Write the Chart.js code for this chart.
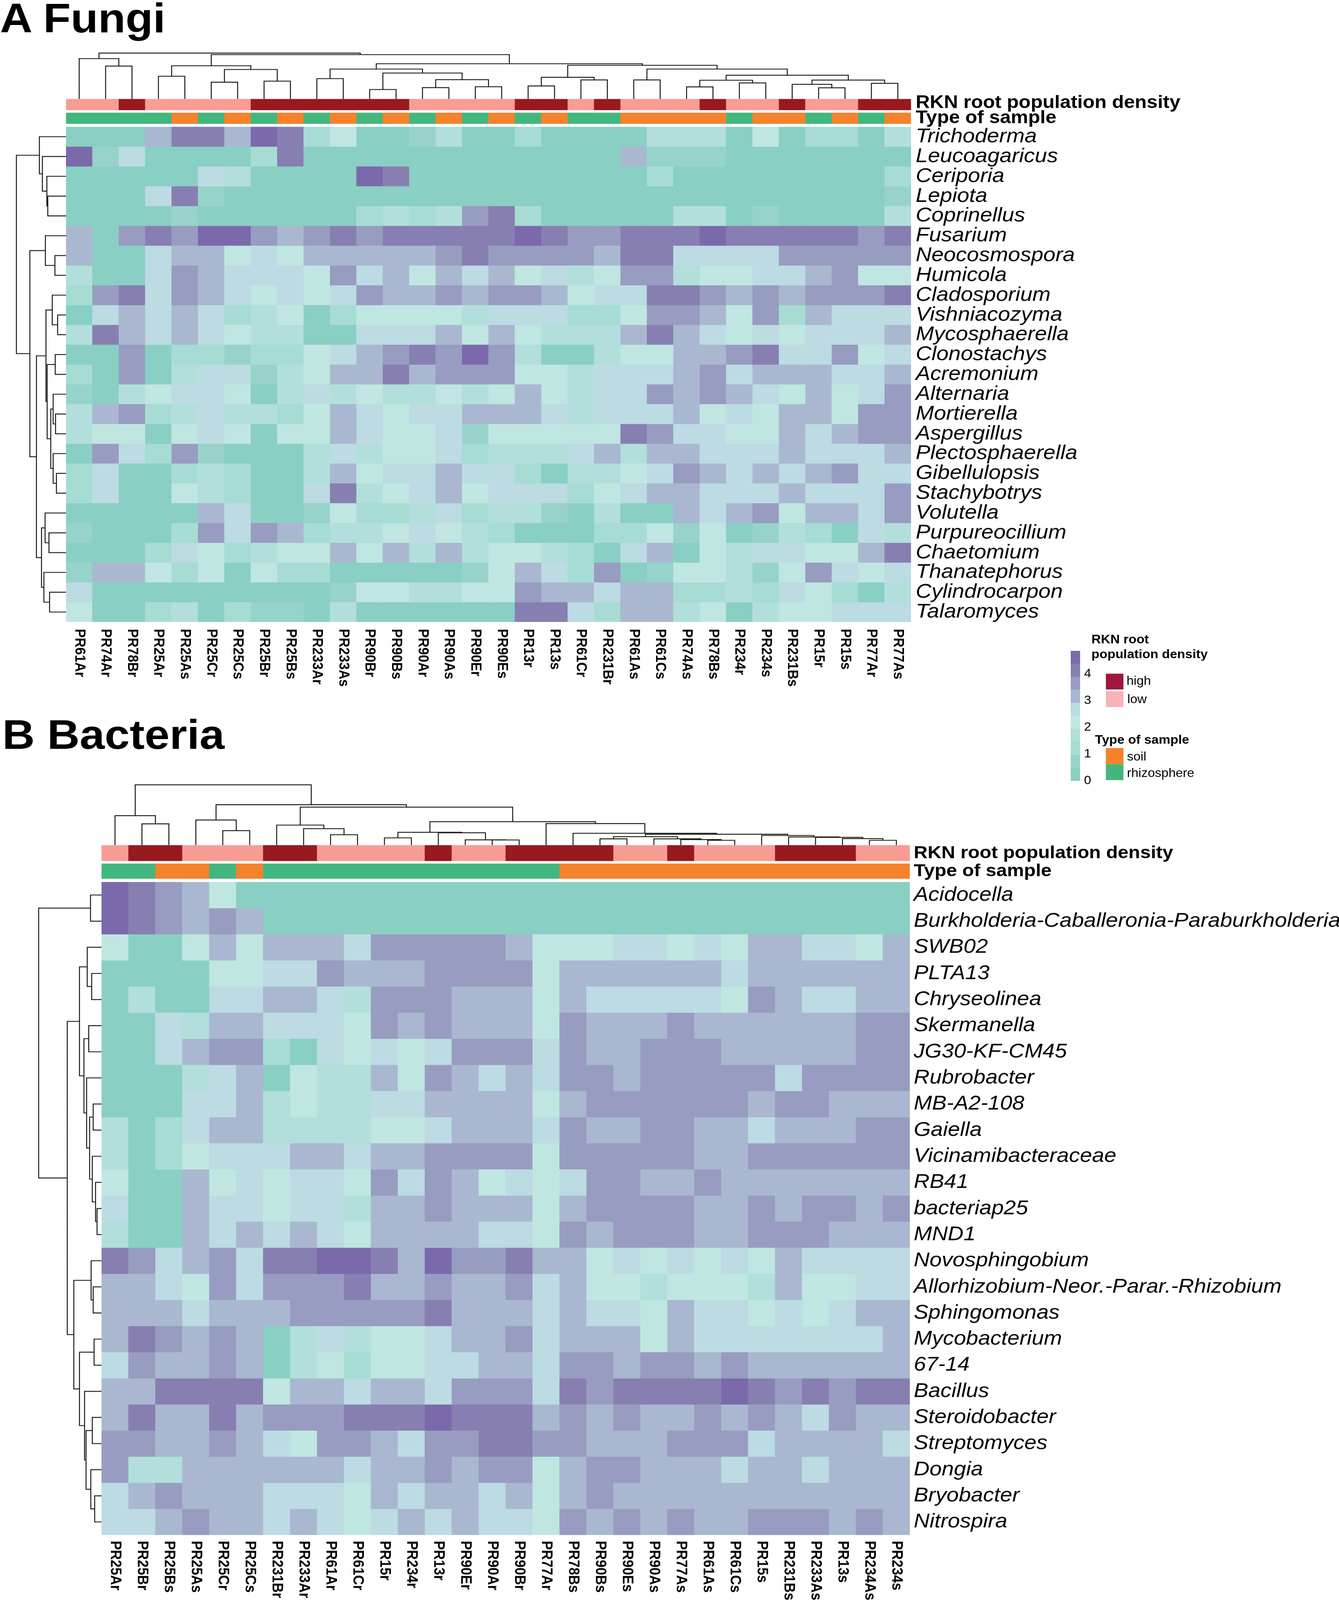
<!DOCTYPE html>
<html><head><meta charset="utf-8">
<style>
html,body{margin:0;padding:0;background:#fff;width:3429px;height:100%;overflow:hidden;font-family:"Liberation Sans",Arial,sans-serif;color:#000}
#page{position:absolute;left:0;top:0;width:3429px;height:4430px;transform-origin:0 0;background:#fff}
canvas{position:absolute}
.t{position:absolute;line-height:1;white-space:nowrap}
.s{position:absolute}
</style>
<script src="https://cdn.jsdelivr.net/npm/chart.js@4/dist/chart.umd.js"></script>
</head><body><div id="page"></div>
<script>
const page=document.getElementById('page');
/* the browser caps its window height; the full 4430-unit layout is fitted to whatever height it actually gives */
page.style.transform='scale(1,'+Math.min(1,window.innerHeight/4430)+')';

const palette=['#8ACFC4','#97D3CA','#A7DCD4','#B2DFDB','#C0E6E2','#BCDBE3','#A9B8D0','#989CC1','#877FB2','#7B69AB'];
const scaleMax=4.87;
const rknColors={high:'#98191E',low:'#F99C94'};
const typeColors={soil:'#F6822B',rhizosphere:'#41B77E'};

const fungiSamples=['PR61Ar','PR74Ar','PR78Br','PR25Ar','PR25As','PR25Cr','PR25Cs','PR25Br','PR25Bs','PR233Ar','PR233As','PR90Br','PR90Bs','PR90Ar','PR90As','PR90Er','PR90Es','PR13r','PR13s','PR61Cr','PR231Br','PR61As','PR61Cs','PR74As','PR78Bs','PR234r','PR234s','PR231Bs','PR15r','PR15s','PR77Ar','PR77As'];
const fungiTaxa=['Trichoderma','Leucoagaricus','Ceriporia','Lepiota','Coprinellus','Fusarium','Neocosmospora','Humicola','Cladosporium','Vishniacozyma','Mycosphaerella','Clonostachys','Acremonium','Alternaria','Mortierella','Aspergillus','Plectosphaerella','Gibellulopsis','Stachybotrys','Volutella','Purpureocillium','Chaetomium','Thanatephorus','Cylindrocarpon','Talaromyces'];
const H='high',L='low',S='soil',R='rhizosphere';
const fungiRkn=[L,L,H,L,L,L,L,H,H,H,H,H,H,L,L,L,L,H,H,L,H,L,L,L,H,L,L,H,L,L,H,H];
const fungiType=[R,R,R,R,S,R,S,R,S,R,S,R,S,R,S,R,S,R,S,R,R,S,S,S,S,R,S,S,R,S,R,S];
const fungiValues=[
[0,0,0,3.2,4.1,4.1,3.2,4.6,4.1,1.2,2.2,0,0,.7,1.7,0,0,1.2,0,0,0,0,1.7,1.7,1.7,0,2.2,0,1.2,1.2,0,1.7],
[4.6,.7,2.7,0,0,0,0,1.2,4.1,0,0,0,0,0,0,0,0,0,0,0,0,3.2,.7,.7,.7,0,0,0,0,0,0,0],
[0,0,0,0,0,2.7,1.7,0,0,0,0,4.6,4.1,0,0,0,0,0,0,0,0,0,1.2,0,0,0,0,0,0,0,0,1.2],
[0,0,0,2.7,4.1,.7,0,0,0,0,0,0,0,0,0,0,0,0,0,0,0,0,0,0,0,0,0,0,0,0,0,.7],
[0,0,0,0,.7,0,0,0,0,0,0,1.2,1.7,1.2,1.7,3.6,4.1,1.2,0,0,0,0,0,1.7,1.7,0,.7,0,0,0,0,1.7],
[3.2,0,3.6,4.1,3.6,4.6,4.6,3.6,3.2,3.6,4.1,3.6,4.1,4.1,4.1,4.1,4.1,4.6,4.1,3.6,3.6,4.1,4.1,4.1,4.6,4.1,4.1,4.1,4.1,4.1,3.6,4.1],
[3.2,0,0,2.7,3.2,3.2,2.2,2.7,2.2,3.2,3.2,3.2,3.2,3.2,3.6,4.1,3.6,3.6,3.6,3.6,3.2,4.1,4.1,2.7,2.7,2.7,2.7,3.6,3.6,3.6,3.6,3.6],
[1.7,0,0,2.7,3.6,3.2,2.7,2.7,2.7,2.2,3.6,2.7,3.2,2.2,3.2,2.7,3.2,2.2,2.7,1.7,2.2,3.6,3.6,1.7,2.2,2.2,2.7,2.7,3.2,3.6,2.2,2.2],
[1.2,3.6,4.1,2.7,3.6,3.2,2.7,2.2,2.7,2.2,2.7,3.6,3.2,3.2,3.6,3.2,3.6,3.6,3.2,2.2,2.7,2.7,4.1,4.1,3.6,3.2,3.6,3.2,3.6,3.6,3.6,4.1],
[0,2.7,3.2,2.7,3.2,2.7,1.2,1.7,2.2,0,1.2,2.2,2.2,2.2,2.2,1.7,2.7,2.7,2.7,1.2,1.2,2.2,3.6,3.6,3.2,2.2,3.6,1.2,3.2,2.7,2.7,2.7],
[1.7,4.1,3.2,2.7,3.2,2.7,2.2,1.7,1.7,0,0,2.7,2.7,2.7,3.2,2.2,3.2,2.2,1.7,1.7,1.7,3.2,4.1,3.2,2.7,2.2,2.7,2.2,2.7,2.7,2.7,3.2],
[0,0,3.6,0,1.2,1.2,.7,1.2,1.2,2.2,2.7,3.2,3.6,4.1,3.6,4.6,3.6,1.7,0,0,1.7,2.2,2.2,3.2,3.2,3.6,4.1,2.7,2.7,3.6,2.2,2.7],
[1.2,0,3.6,0,1.7,2.7,2.7,.7,1.7,2.2,3.2,3.2,4.1,3.2,3.6,3.6,3.6,2.2,2.2,1.7,2.7,2.7,2.7,3.2,3.6,2.7,3.2,3.2,3.2,2.7,2.7,3.2],
[.7,0,1.7,2.2,2.7,2.7,2.2,0,1.7,2.7,1.7,2.2,1.7,1.7,2.2,1.7,2.2,3.2,2.2,1.7,2.7,2.7,3.6,3.2,3.6,3.2,2.7,2.2,3.2,2.2,2.7,3.6],
[1.7,3.2,3.6,1.2,1.7,2.7,1.7,1.7,1.2,2.2,3.2,2.7,2.2,2.7,2.7,3.2,3.2,3.2,2.7,1.7,2.7,2.7,2.7,3.2,2.2,2.7,2.2,3.2,3.2,2.2,3.6,3.6],
[1.7,2.2,2.2,0,2.2,2.7,2.2,0,2.2,2.2,3.2,2.7,2.2,2.2,2.7,.7,2.2,2.2,2.2,2.2,2.2,4.1,3.6,2.7,2.7,2.2,2.2,3.2,2.7,3.2,3.6,3.6],
[0,3.6,2.7,1.2,3.6,.7,0,0,0,1.7,2.7,1.7,2.2,2.2,2.7,1.2,1.7,1.7,1.7,2.7,3.2,1.7,3.2,3.2,2.7,2.7,2.7,3.2,2.7,2.7,2.7,3.2],
[1.2,2.7,0,0,1.2,1.7,1.2,0,0,1.7,3.2,2.2,2.7,2.7,3.2,2.7,2.7,1.2,0,1.7,1.7,2.2,2.7,3.6,3.2,2.7,3.2,2.7,3.2,3.6,2.7,2.7],
[1.2,2.7,0,0,2.2,1.7,1.2,0,0,2.7,4.1,1.7,2.2,2.7,3.2,2.2,2.7,2.7,2.7,1.2,2.2,2.7,3.2,3.2,2.7,2.7,2.7,3.2,2.7,2.7,2.7,3.6],
[0,0,0,0,0,3.2,2.7,0,0,.7,2.2,1.2,1.2,1.7,2.7,1.2,1.7,1.7,.7,0,1.7,0,0,3.2,2.7,3.2,3.6,2.2,3.2,3.2,2.7,3.6],
[.7,0,0,0,1.2,3.6,2.7,3.6,3.2,1.2,1.7,1.7,2.2,2.7,2.2,1.7,1.2,0,0,0,1.2,1.2,2.2,.7,2.2,0,.7,1.7,1.2,0,2.7,1.7],
[0,0,0,1.2,2.7,2.2,1.2,1.7,2.2,2.2,3.2,2.2,3.2,1.7,3.2,1.7,2.2,2.2,1.7,1.2,0,2.7,3.2,0,2.2,1.7,2.7,2.7,2.2,2.2,3.2,4.1],
[.7,3.2,3.2,2.2,1.2,2.2,0,2.2,1.2,1.2,0,0,0,0,0,.7,2.2,3.2,2.7,1.2,3.6,0,.7,2.2,2.2,1.7,.7,2.2,3.6,2.7,2.2,2.7],
[2.7,0,0,0,0,0,0,0,0,0,.7,2.2,2.2,1.7,1.7,2.2,2.2,3.6,3.2,3.2,2.7,3.2,3.2,1.2,1.2,1.7,1.2,2.7,2.2,1.2,0,1.7],
[2.2,0,0,1.2,1.7,0,1.2,.7,.7,0,1.7,0,0,0,0,0,0,4.1,4.1,2.7,1.2,3.2,3.2,1.7,2.2,0,1.7,2.2,2.2,2.7,2.7,2.7]
];
const fungiColumnTree=[311,[274,0,[223,1,2]],[301,[225,[154,3,4],[200,[114,5,6],[121,7,8]]],[239,[203,[138,9,10],[176,[64,11,12],[131,[77,13,14],[83,15,16]]]],[228,[147,[88,17,18],[129,19,20]],[203,[129,21,22],[161,[127,[82,23,24],[109,25,26]],[128,[99,27,[76,28,29]],[106,30,31]]]]]]]];
const fungiRowTree=[166,[89,0,[79,1,[64,2,[61,3,4]]]],[121,[69,5,[37,6,7]],[99,[67,[46,8,[28,9,10]],[63,[36,11,12],[51,[43,13,[35,14,15]],[43,16,[32,17,18]]]]],[82,[70,19,[57,20,21]],[74,22,[55,23,24]]]]]];

const bacteriaSamples=['PR25Ar','PR25Br','PR25Bs','PR25As','PR25Cr','PR25Cs','PR231Br','PR233Ar','PR61Ar','PR61Cr','PR15r','PR234r','PR13r','PR90Er','PR90Ar','PR90Br','PR77Ar','PR78Bs','PR90Bs','PR90Es','PR90As','PR77As','PR61As','PR61Cs','PR15s','PR231Bs','PR233As','PR13s','PR234As','PR234s'];
const bacteriaTaxa=['Acidocella','Burkholderia-Caballeronia-Paraburkholderia','SWB02','PLTA13','Chryseolinea','Skermanella','JG30-KF-CM45','Rubrobacter','MB-A2-108','Gaiella','Vicinamibacteraceae','RB41','bacteriap25','MND1','Novosphingobium','Allorhizobium-Neor.-Parar.-Rhizobium','Sphingomonas','Mycobacterium','67-14','Bacillus','Steroidobacter','Streptomyces','Dongia','Bryobacter','Nitrospira'];
const bacteriaRkn=[L,H,H,L,L,L,H,H,L,L,L,L,H,L,L,H,H,H,H,L,L,H,L,L,L,H,H,H,L,L];
const bacteriaType=[R,R,S,S,R,S,R,R,R,R,R,R,R,R,R,R,R,S,S,S,S,S,S,S,S,S,S,S,S,S];
const bacteriaValues=[
[4.6,4.1,3.6,3.2,2.2,0,0,0,0,0,0,0,0,0,0,0,0,0,0,0,0,0,0,0,0,0,0,0,0,0],
[4.6,4.1,3.6,3.2,3.6,3.2,0,0,0,0,0,0,0,0,0,0,0,0,0,0,0,0,0,0,0,0,0,0,0,0],
[2.2,0,0,2.2,3.2,2.2,3.2,3.2,3.2,2.7,3.6,3.6,3.6,3.6,3.6,3.2,2.2,2.2,2.2,2.7,2.7,2.2,2.7,2.2,3.2,3.2,2.7,2.7,2.2,3.2],
[0,0,0,0,2.2,2.2,2.7,2.7,3.6,3.2,3.2,3.2,3.6,3.6,3.6,3.6,2.2,3.2,3.2,3.2,3.2,3.2,3.2,2.7,3.2,3.2,3.2,3.2,3.2,3.2],
[0,1.7,0,0,2.7,2.7,3.2,3.2,2.7,1.7,3.6,3.6,3.6,3.2,3.2,3.2,2.2,3.2,2.7,2.7,2.7,2.7,2.7,2.2,3.6,3.2,2.7,2.7,3.2,3.2],
[0,0,2.7,1.7,3.2,3.2,2.7,2.7,2.7,2.2,3.6,3.2,3.6,3.2,3.2,3.2,2.2,3.6,3.2,3.2,3.2,3.6,3.2,3.2,3.2,3.2,3.2,3.2,3.6,3.6],
[0,0,2.7,3.2,3.6,3.6,1.2,0,2.7,2.2,2.7,2.2,2.7,3.6,3.6,3.6,2.7,3.6,3.2,3.2,3.6,3.6,3.6,3.2,3.2,3.2,3.2,3.2,3.6,3.6],
[0,0,0,1.7,2.7,3.2,0,2.2,1.7,1.7,3.2,2.2,3.6,3.2,2.7,3.2,2.7,3.6,3.6,3.2,3.6,3.6,3.6,3.6,3.6,2.7,3.6,3.6,3.6,3.6],
[0,0,0,2.7,2.7,3.2,1.7,2.2,1.7,1.7,2.7,2.7,3.2,3.2,3.2,3.2,2.2,3.2,3.6,3.6,3.6,3.6,3.6,3.6,3.2,3.6,3.6,3.2,3.2,3.2],
[1.7,0,1.2,2.7,3.2,3.2,1.7,1.7,1.7,1.7,2.2,2.2,2.7,3.2,3.2,3.2,2.7,3.6,3.2,3.2,3.6,3.6,3.2,3.2,2.7,3.2,3.2,3.2,3.6,3.6],
[1.7,0,1.2,2.2,2.7,2.7,2.7,3.2,3.2,2.7,3.2,3.2,3.6,3.6,3.6,3.6,2.2,3.6,3.6,3.6,3.6,3.6,3.2,3.2,3.6,3.6,3.6,3.6,3.6,3.6],
[2.2,0,0,3.2,2.2,2.7,2.2,2.7,2.7,2.2,3.6,2.7,3.6,3.2,2.2,2.7,2.2,2.7,3.6,3.6,3.2,3.2,3.6,3.2,3.2,3.2,3.2,3.2,3.2,3.2],
[2.7,0,0,3.2,2.7,2.7,2.2,2.7,2.7,1.7,3.2,3.2,3.6,3.2,3.2,3.2,2.2,3.2,3.6,3.6,3.6,3.6,3.2,3.2,3.6,3.2,3.6,3.6,3.2,3.6],
[1.7,0,0,3.2,2.7,3.2,2.7,3.2,2.7,2.2,3.2,3.2,3.2,3.2,2.7,2.7,2.2,3.6,3.2,3.6,3.6,3.6,3.2,3.2,3.6,3.6,3.6,3.2,3.2,3.2],
[4.1,3.6,2.7,3.2,3.6,2.7,4.1,4.1,4.6,4.6,4.1,3.2,4.6,3.6,3.6,4.1,3.2,3.2,2.2,2.7,2.2,2.7,2.2,2.7,2.2,3.2,2.7,2.7,2.7,2.7],
[3.2,3.2,2.7,2.2,3.6,2.7,3.6,3.6,3.6,4.1,3.2,3.2,3.6,3.2,3.2,3.6,2.7,3.2,2.2,2.2,1.7,2.2,2.2,2.2,1.7,3.2,2.2,2.2,2.7,2.7],
[3.2,3.2,3.2,2.7,3.2,3.2,3.2,3.6,3.6,3.6,3.6,3.6,4.1,3.2,3.2,3.2,2.7,3.2,2.7,2.7,2.2,3.2,2.7,2.7,2.2,2.7,2.2,2.7,3.2,3.2],
[3.2,4.1,3.6,3.2,3.6,3.2,0,1.7,2.7,1.7,2.2,2.2,2.7,3.2,3.2,3.6,2.7,3.2,3.2,3.2,2.2,3.2,2.7,2.7,2.7,2.7,2.7,2.7,2.7,3.2],
[2.7,3.6,3.2,3.2,3.6,3.2,0,1.7,2.2,1.2,2.2,2.2,2.7,2.7,3.2,3.2,2.7,3.6,3.6,3.2,3.6,3.6,3.2,3.6,3.2,3.2,3.2,3.2,3.2,3.2],
[3.2,3.2,4.1,4.1,4.1,4.1,2.2,3.2,3.2,2.7,3.2,3.2,2.7,3.6,3.6,3.6,2.7,4.1,3.6,4.1,4.1,4.1,4.1,4.6,4.1,3.6,4.1,3.6,4.1,4.1],
[3.2,4.1,3.2,3.2,4.1,3.2,3.6,3.6,3.6,4.1,4.1,4.1,4.6,4.1,4.1,4.1,3.2,3.6,3.2,3.6,3.2,3.2,3.6,3.2,3.6,3.2,2.7,3.6,3.2,3.2],
[3.6,3.6,3.2,3.2,3.6,3.2,2.7,2.2,3.6,3.6,3.2,2.7,3.6,3.6,4.1,4.1,3.6,3.6,3.2,3.2,3.2,3.6,3.6,3.6,2.7,3.2,3.2,3.2,3.2,2.7],
[3.6,1.7,1.7,3.2,3.2,3.2,3.2,3.2,3.2,2.7,3.2,3.2,3.6,3.2,3.6,3.6,2.2,3.2,3.6,3.6,3.2,3.2,3.2,2.7,3.2,3.2,2.7,3.2,3.2,3.2],
[2.7,3.2,3.6,3.2,3.2,3.2,2.7,2.7,2.7,2.2,3.2,2.7,3.2,3.2,2.7,3.2,2.2,3.2,3.6,3.2,3.2,3.2,3.2,3.2,3.2,3.2,3.2,3.2,3.2,3.2],
[2.7,2.7,3.2,3.6,3.2,3.2,2.7,3.2,2.7,2.2,2.7,3.2,2.7,3.2,2.7,2.7,2.2,3.6,3.2,3.6,3.2,3.6,3.2,3.2,3.6,3.6,3.6,3.2,3.6,3.2]
];
const bacteriaColumnTree=[249,[122,0,[88,1,2]],[167,[104,3,[60,4,5]],[157,[83,6,[68,7,[43,8,9]]],[97,[53,[30,10,11],[51,12,[22,13,[21.5,14,15]]]],[89,16,[49,17,[45,[35,[26,18,19],[26,20,[23,21,[20,22,23]]]],[40,24,[34,25,[32,26,[27,27,[20,28,29]]]]]]]]]]]];
const bacteriaRowTree=[211,[37,0,1],[115,[74,[48,2,[33,3,4]],[59,[43,5,6],[50,7,[40,[28,8,9],[31,10,[20,11,[15,12,13]]]]]]],[93,[35,14,[28,15,16]],[74,[25,17,18],[57,19,[52,[31,20,21],[36,22,[23,23,24]]]]]]]];

const FF='"Liberation Sans",Arial,sans-serif';
Chart.defaults.animation=false;
Chart.defaults.font.family=FF;
Chart.defaults.color='#000';
Chart.defaults.devicePixelRatio=1;
Chart.defaults.responsive=false;
Chart.defaults.maintainAspectRatio=false;
Chart.defaults.plugins.legend.display=false;
Chart.defaults.plugins.tooltip.enabled=false;
const PAGE_W=3429;
const noAuto=p=>({autoPadding:false,padding:p});
/* the value axis keeps its exact width and spends nothing on half-label margins */
const fitAxis=width=>s=>{s.width=width;s.paddingTop=0;s.paddingBottom=0;if(s._margins){s._margins.top=0;s._margins.bottom=0;}};

function canvasAt(x,y,w,h){const c=document.createElement('canvas');c.width=Math.round(w);c.height=Math.round(h);c.style.left=x+'px';c.style.top=y+'px';page.appendChild(c);return c.getContext('2d');}
function colorOf(v){return palette[Math.min(palette.length-1,Math.floor(v/(scaleMax/palette.length)))];}
const hiddenGrid={display:false,drawTicks:false};
const noBorder={display:false};
const VPAD=30;

function heatmap(rect,samples,taxa,values,labelPad){
  const ctx=canvasAt(rect.x,rect.y-VPAD,PAGE_W-rect.x,rect.h+2*VPAD);
  new Chart(ctx,{type:'bar',data:{labels:samples,datasets:values.map((row,r)=>({
      label:taxa[r],data:row.map(()=>[r-.5,r+.5]),backgroundColor:row.map(colorOf),borderWidth:0,
      barPercentage:1,categoryPercentage:1,grouped:false}))},
    options:{layout:noAuto({top:VPAD,bottom:VPAD,left:0,right:0}),scales:{
      x:{display:false,offset:true,grid:hiddenGrid},
      y:{type:'linear',position:'right',reverse:true,min:-.5,max:taxa.length-.5,grid:hiddenGrid,border:noBorder,
         afterBuildTicks:s=>{s.ticks=taxa.map((_,i)=>({value:i}));},
         afterFit:fitAxis(PAGE_W-rect.x-rect.w),
         ticks:{autoSkip:false,padding:labelPad,callback:v=>taxa[v],font:{size:56,style:'italic',family:FF},color:'#000'}}
    }}});
}
function strip(x,y,w,h,samples,cats,colors,title,size,labelPad,tickAt){
  const ctx=canvasAt(x,y-VPAD,PAGE_W-x,h+2*VPAD);
  new Chart(ctx,{type:'bar',data:{labels:samples,datasets:[{data:cats.map(()=>[0,1]),backgroundColor:cats.map(c=>colors[c]),borderWidth:0,barPercentage:1,categoryPercentage:1}]},
    options:{layout:noAuto({top:VPAD,bottom:VPAD,left:0,right:0}),scales:{
      x:{display:false,offset:true,grid:hiddenGrid},
      y:{type:'linear',position:'right',min:0,max:1,grid:hiddenGrid,border:noBorder,
         afterBuildTicks:s=>{s.ticks=[{value:tickAt}];},
         afterFit:fitAxis(PAGE_W-x-w),
         ticks:{autoSkip:false,padding:labelPad,callback:()=>title,font:{size:size,weight:'bold',family:FF},color:'#000'}}
    }}});
}
function sampleLabels(x,y,w,h,samples,size,shift){
  const ctx=canvasAt(x,y,w,h);
  new Chart(ctx,{type:'bar',data:{labels:samples,datasets:[{data:[]}]},
    options:{layout:noAuto(0),scales:{
      y:{display:false,grid:hiddenGrid},
      x:{position:'top',offset:true,grid:hiddenGrid,border:noBorder,afterFit:s=>{s.height=1;},
         ticks:{autoSkip:false,mirror:true,minRotation:-90,maxRotation:-90,padding:0,labelOffset:shift,font:{size:size,weight:'bold',family:FF},color:'#000'}}
    }}});
}
function treePoints(tree,horizontal){
  const pts=[];
  const add=(pos,h)=>pts.push(horizontal?{x:h,y:pos}:{x:pos,y:h});
  (function walk(n){
    if(typeof n==='number')return{p:n,h:0};
    const A=walk(n[1]),B=walk(n[2]);
    add(A.p,A.h);add(A.p,n[0]);add(B.p,n[0]);add(B.p,B.h);pts.push({x:NaN,y:NaN});
    return{p:(A.p+B.p)/2,h:n[0]};
  })(tree);
  return pts;
}
const PAD=4;
function dendro(x,y,w,h,tree,count,horizontal){
  const ctx=canvasAt(x-PAD,y-PAD,w+2*PAD,h+2*PAD);
  const lin={type:'linear',display:false,grid:hiddenGrid};
  const posAxis={...lin,min:-.5,max:count-.5};
  const hAxis={...lin,min:0,max:tree[0]};
  new Chart(ctx,{type:'scatter',data:{datasets:[{data:treePoints(tree,horizontal),showLine:true,spanGaps:false,borderColor:'#111',borderWidth:2.4,pointRadius:0,tension:0,clip:false,borderJoinStyle:'miter',borderCapStyle:'butt'}]},
    options:{layout:noAuto(PAD),scales:horizontal?{x:{...hAxis,reverse:true},y:{...posAxis,reverse:true}}:{x:posAxis,y:hAxis}}});
}
function panel(p){
  const r=p.heat;
  dendro(r.x,p.rkn.y-p.colDepth,r.w,p.colDepth,p.colTree,p.samples.length,false);
  dendro(r.x-p.rowDepth,r.y,p.rowDepth,r.h,p.rowTree,p.taxa.length,true);
  strip(r.x,p.rkn.y,r.w,p.rkn.h,p.samples,p.rknCats,rknColors,'RKN root population density',p.stripFont,p.labelPad,p.rknTick);
  strip(r.x,p.type.y,r.w,p.type.h,p.samples,p.typeCats,typeColors,'Type of sample',p.stripFont,p.labelPad,.5);
  heatmap(r,p.samples,p.taxa,p.values,p.labelPad);
  sampleLabels(r.x,r.y+r.h+p.xGap,r.w,p.xHeight,p.samples,p.xFont,p.xShift);
}
panel({heat:{x:169,y:351,w:2164,h:1371},rkn:{y:273.5,h:31},type:{y:312,h:31},colDepth:127,rowDepth:127,
  samples:fungiSamples,taxa:fungiTaxa,values:fungiValues,rknCats:fungiRkn,typeCats:fungiType,colTree:fungiColumnTree,rowTree:fungiRowTree,
  stripFont:50,labelPad:12,rknTick:.63,xGap:18,xHeight:200,xFont:37,xShift:0});
panel({heat:{x:260,y:2442,w:2070,h:1808},rkn:{y:2340,h:44.4},type:{y:2391,h:41.6},colDepth:167,rowDepth:161,
  samples:bacteriaSamples,taxa:bacteriaTaxa,values:bacteriaValues,rknCats:bacteriaRkn,typeCats:bacteriaType,colTree:bacteriaColumnTree,rowTree:bacteriaRowTree,
  stripFont:49,labelPad:10,rknTick:.5,xGap:15,xHeight:170,xFont:38,xShift:0});

/* colour scale */
const binEdges=palette.map((_,i)=>[i*scaleMax/palette.length,(i+1)*scaleMax/palette.length]);
const colorbarTicks=[0,1,2,3,4];
(function(){
  const ctx=canvasAt(2742,1782,120,400);
  new Chart(ctx,{type:'bar',data:{labels:['scale'],datasets:binEdges.map((e,i)=>({data:[e],backgroundColor:palette[i],borderWidth:0,barPercentage:1,categoryPercentage:1,grouped:false}))},
    options:{layout:noAuto({top:20,bottom:20,left:0,right:0}),scales:{
      x:{display:false,offset:true,grid:hiddenGrid},
      y:{type:'linear',position:'right',min:0,max:scaleMax,grid:hiddenGrid,border:noBorder,
         afterBuildTicks:s=>{s.ticks=colorbarTicks.map(v=>({value:v}));},
         afterFit:fitAxis(96),
         ticks:{padding:10,autoSkip:false,font:{size:33,family:FF},color:'#000'}}
    }}});
})();

function text(str,x,cy,size,bold){const d=document.createElement('div');d.className='t';d.textContent=str;d.style.left=x+'px';d.style.top=(cy-size/2)+'px';d.style.fontSize=size+'px';if(bold)d.style.fontWeight='bold';page.appendChild(d);}
function swatch(x,y,w,h,c){const d=document.createElement('div');d.className='s';d.style.cssText+=`left:${x}px;top:${y}px;width:${w}px;height:${h}px;background:${c}`;page.appendChild(d);}
text('RKN root',2795,1770,33.5,true);
text('population density',2795,1811,33.5,true);
swatch(2832,1864.5,45,44.5,'#A0173E');text('high',2885,1884,33);
swatch(2832,1914,45,44,'#F9B2B6');text('low',2887,1935,33);
text('Type of sample',2804,2048,33.5,true);
swatch(2832,2071,45,45,'#F6822B');text('soil',2886,2094,33);
swatch(2832,2116,45,44,'#41B77E');text('rhizosphere',2886,2139,33);
(function(){
  const a=document.createElement('div');a.className='t';a.textContent='A Fungi';a.style.cssText+='left:0;top:-7px;font-size:115px;font-weight:bold';page.appendChild(a);
  const b=document.createElement('div');b.className='t';b.textContent='B Bacteria';b.style.cssText+='left:6px;top:1976px;font-size:115px;font-weight:bold';page.appendChild(b);
})();
</script>
</body></html>
